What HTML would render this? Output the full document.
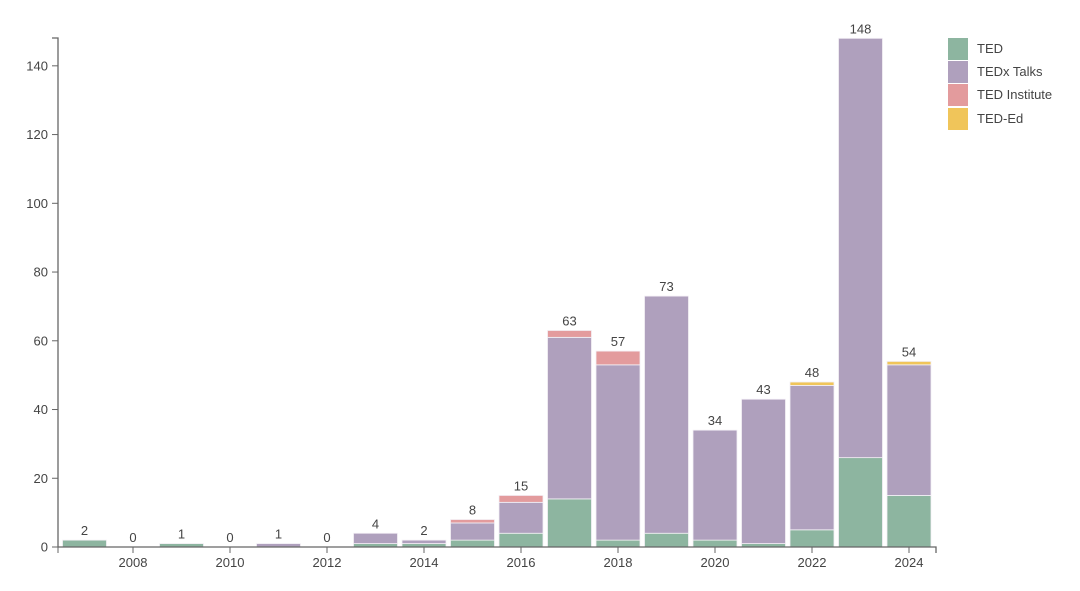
<!DOCTYPE html>
<html><head><meta charset="utf-8"><style>
html,body{margin:0;padding:0;background:#fff;width:1080px;height:591px;overflow:hidden}
svg text{font-family:"Liberation Sans",sans-serif;fill:#444}
</style></head><body>
<svg id="c" width="1080" height="591" xmlns="http://www.w3.org/2000/svg"></svg>
<script>
var s=document.getElementById('c');var h='';
function Y(v){return 547-3.437*v;}
var col=['#8db5a0','#afa0bd','#e39b9d','#f0c55a'];
var d=[[2007,[2,0,0,0]],[2008,[0,0,0,0]],[2009,[1,0,0,0]],[2010,[0,0,0,0]],[2011,[0,1,0,0]],[2012,[0,0,0,0]],[2013,[1,3,0,0]],[2014,[1,1,0,0]],[2015,[2,5,1,0]],[2016,[4,9,2,0]],[2017,[14,47,2,0]],[2018,[2,51,4,0]],[2019,[4,69,0,0]],[2020,[2,32,0,0]],[2021,[1,42,0,0]],[2022,[5,42,0,1]],[2023,[26,122,0,0]],[2024,[15,38,0,1]]];
d.forEach(function(r){var c=521+48.5*(r[0]-2016),w=44,x=c-w/2,cum=0;
r[1].forEach(function(v,i){if(v>0){h+='<rect x="'+x+'" y="'+Y(cum+v)+'" width="'+w+'" height="'+(3.437*v)+'" fill="'+col[i]+'" stroke="#f4f0f6" stroke-width="0.8"/>';}cum+=v;});
h+='<text x="'+c+'" y="'+(Y(cum)-5)+'" font-size="13" text-anchor="middle">'+cum+'</text>';
if(r[0]%2==0){h+='<line x1="'+c+'" x2="'+c+'" y1="547" y2="553" stroke="#666"/><text x="'+c+'" y="567" font-size="13" text-anchor="middle">'+r[0]+'</text>';}
});
h+='<path d="M52,38H58V547H936V553" fill="none" stroke="#666" stroke-width="1.3"/>';
h+='<line x1="58" x2="58" y1="547" y2="553" stroke="#666"/>';
for(var v=0;v<=140;v+=20){var y=Y(v);h+='<line x1="52" x2="58" y1="'+y+'" y2="'+y+'" stroke="#666"/><text x="48" y="'+(y+4.5)+'" font-size="13" text-anchor="end">'+v+'</text>';}
var L=['TED','TEDx Talks','TED Institute','TED-Ed'],ly=[38,61,84,108];
L.forEach(function(t,i){h+='<rect x="948" y="'+ly[i]+'" width="20" height="22" fill="'+col[i]+'"/><text x="977" y="'+(ly[i]+15)+'" font-size="13">'+t+'</text>';});
s.innerHTML=h;
</script>
</body></html>
